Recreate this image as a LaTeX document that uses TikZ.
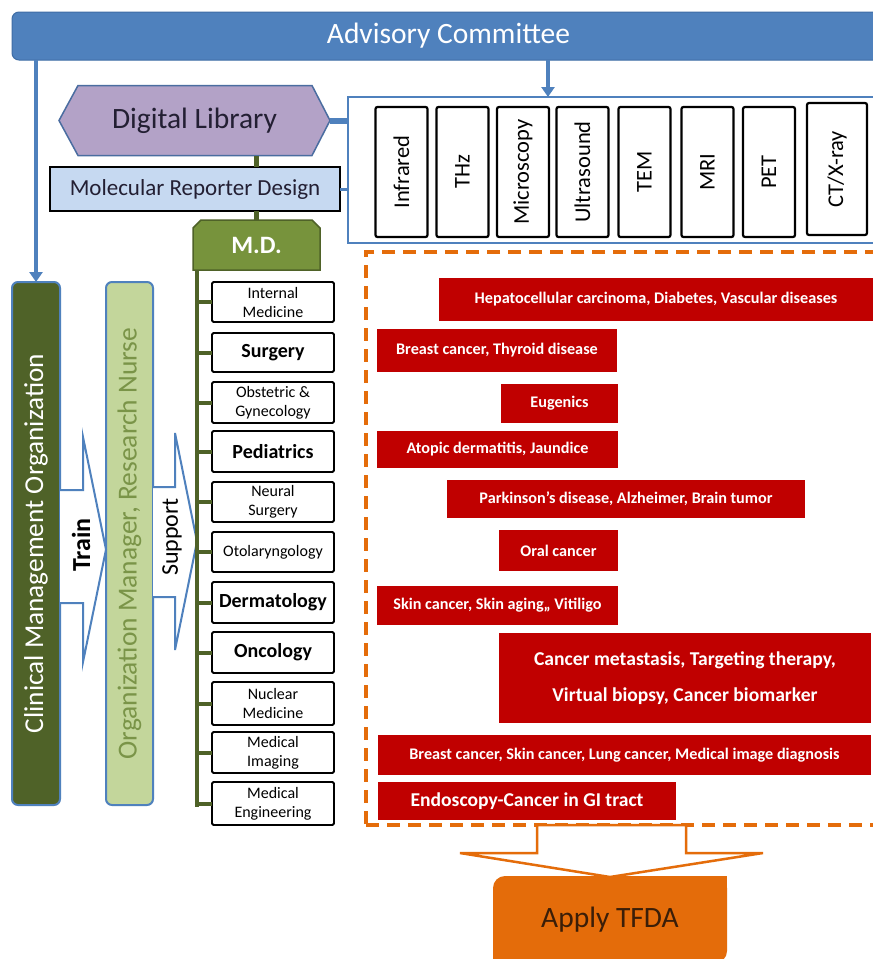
\documentclass[tikz,border=0pt]{standalone}
\usepackage{fontspec}
\setmainfont{Carlito}
\usetikzlibrary{arrows.meta}
\pgfdeclarelayer{bg}
\pgfsetlayers{bg,main}
\definecolor{advblue}{HTML}{4F81BD}
\definecolor{advdark}{HTML}{3F6DA5}
\definecolor{hexfill}{HTML}{B3A2C7}
\definecolor{hexline}{HTML}{4A6DA0}
\definecolor{mrdfill}{HTML}{C6D9F1}
\definecolor{mdgreen}{HTML}{77933C}
\definecolor{dkgreen}{HTML}{4F6228}
\definecolor{ltgreen}{HTML}{C3D69B}
\definecolor{txgreen}{HTML}{7A9448}
\definecolor{dred}{HTML}{C00000}
\definecolor{orng}{HTML}{E46C0A}
\definecolor{tfdatext}{HTML}{3B1E08}
\definecolor{dltext}{HTML}{231F33}
\tikzset{
  fbox/.style={inner sep=0pt, outer sep=0pt},
  spanbox/.style n args={4}{minimum width={(#3)-(#1)}, minimum height={(#4)-(#2)}, at={({((#1)+(#3))/2},{((#2)+(#4))/2})}},
  advarrow/.style={draw=advblue, line width=4.5pt, -{Triangle[width=13pt,length=10pt]}},
  dept/.style={fbox, draw=black, line width=1.8pt, fill=white, rounded corners=1.5pt, align=center, font=\fontsize{16}{19}\selectfont},
  deptb/.style={dept, font=\bfseries\fontsize{20}{24}\selectfont},
  branch/.style={draw=dkgreen, line width=4pt},
  redbox/.style={fbox, fill=dred, text=white, align=center, font=\bfseries\fontsize{16.2}{19}\selectfont},
  redbig/.style={redbox, font=\bfseries\fontsize{19.6}{36}\selectfont},
  imgbox/.style={fbox, draw=black, line width=2.2pt, rounded corners=2pt, fill=white, rotate=90, minimum width=130pt, minimum height=52pt, font=\fontsize{22.5}{26}\selectfont},
  sidebar/.style={fbox, draw=advblue, line width=2pt, rounded corners=6pt, rotate=90, minimum width=523pt, minimum height=48pt},
  blockarrow/.style={draw=advblue, line width=2pt, fill=white, line join=miter},
}
\begin{document}
\begin{tikzpicture}[x=1pt,y=-1pt]
\useasboundingbox (0,0) rectangle (873,959);
\begin{pgfonlayer}{bg}
\fill[white] (0,0) rectangle (873,959);
\end{pgfonlayer}

% Advisory committee
\node[fbox, fill=advblue, draw=advdark, line width=1pt, rounded corners=7pt, spanbox={12}{12}{885}{60}, text=white, font=\fontsize{29.5}{32}\selectfont] (adv) {Advisory Committee};

% imaging modalities frame
\node[fbox, draw=advblue, line width=2.5pt, fill=white, spanbox={348}{97}{890}{243}] (img) {};
\coordinate (imgtop) at (548,97);
\draw[advarrow] (adv.south -| imgtop) -- (imgtop);

\node[imgbox] (ir)  at (401.5,172) {Infrared};
\node[imgbox] (thz) at (462.5,172) {THz};
\node[imgbox] (mic) at (523,172) {Microscopy};
\node[imgbox] (us)  at (582.5,172) {Ultrasound};
\node[imgbox] (tem) at (644.5,172) {TEM};
\node[imgbox] (mri) at (707.5,172) {MRI};
\node[imgbox] (pet) at (769,172) {PET};
\node[imgbox, minimum width=132pt, minimum height=60pt] (ct) at (837,169) {CT/X-ray};

% Digital library hexagon
\node[fbox, minimum width=271pt, minimum height=70pt, text=dltext, font=\fontsize{29.5}{32}\selectfont] (dl) at (194.5,120.5) {Digital Library};
\begin{pgfonlayer}{bg}
\filldraw[fill=hexfill, draw=hexline, line width=1.5pt] (dl.west) -- ([xshift=19pt]dl.north west) -- ([xshift=-18pt]dl.north east) -- (dl.east) -- ([xshift=-18pt]dl.south east) -- ([xshift=19pt]dl.south west) -- cycle;
\end{pgfonlayer}
\draw[draw=advblue, line width=6pt] (dl.east) -- (dl.east -| img.west);

% Molecular reporter design
\node[fbox, draw=black, line width=2.5pt, fill=mrdfill, spanbox={50}{167}{340}{211}, text=dltext, font=\fontsize{23}{26}\selectfont] (mrd) {Molecular Reporter Design};
\draw[draw=advblue, line width=3pt] (mrd.east) -- (mrd.east -| img.west);

% M.D.
\node[fbox, minimum width=127pt, minimum height=50pt, text=white, font=\bfseries\fontsize{25}{28}\selectfont] (md) at (256.5,245) {M.D.};
\begin{pgfonlayer}{bg}
\filldraw[fill=mdgreen, draw=dkgreen, line width=1.5pt] (md.south west) -- ([yshift=-8pt]md.north west) -- ([xshift=8pt]md.north west) -- ([xshift=-8pt]md.north east) -- ([yshift=-8pt]md.north east) -- (md.south east) -- cycle;
\end{pgfonlayer}
\draw[draw=dkgreen, line width=5pt] (md.north |- dl.south) -- (md.north |- mrd.north);
\draw[draw=dkgreen, line width=5pt] (md.north |- mrd.south) -- (md.north);

% side bars
\node[sidebar, fill=dkgreen, text=white, font=\fontsize{27.3}{30}\selectfont] (cmo) at (36,543.5) {Clinical Management Organization};
\node[sidebar, fill=ltgreen, text=txgreen, minimum height=47pt, font=\fontsize{27.5}{30}\selectfont] (orn) at (129.5,543.5) {Organization Manager, Research Nurse};
\draw[advarrow] (adv.south -| cmo.east) -- (cmo.east);

% Train / Support arrows
\filldraw[blockarrow] (cmo.south |- 0,490) -- (83,490) -- (83,437) -- (orn.north |- 0,549.5) -- (83,662) -- (83,603) -- (cmo.south |- 0,603);
\node[rotate=90, font=\bfseries\fontsize{26}{30}\selectfont] (train) at (81,545) {Train};
\filldraw[blockarrow] (orn.south |- 0,487) -- (175,487) -- (175,433) -- (197,541.5) -- (175,650) -- (175,597) -- (orn.south |- 0,597);
\node[rotate=90, font=\fontsize{24}{28}\selectfont] (support) at (172,537) {Support};

% departments
\node[dept,  spanbox={212}{282}{334}{322}] (d1) {Internal\\Medicine};
\node[deptb, spanbox={212}{333}{334}{372}] (d2) {Surgery};
\node[dept,  spanbox={212}{382}{334}{423}] (d3) {Obstetric \&\\Gynecology};
\node[deptb, spanbox={212}{431}{334}{472}] (d4) {Pediatrics};
\node[dept,  spanbox={212}{482}{334}{522}] (d5) {Neural\\Surgery};
\node[dept,  spanbox={212}{532}{334}{572}] (d6) {Otolaryngology};
\node[deptb, spanbox={212}{582}{334}{623}] (d7) {Dermatology};
\node[deptb, spanbox={212}{632}{334}{673}] (d8) {Oncology};
\node[dept,  spanbox={212}{682}{334}{725}] (d9) {Nuclear\\Medicine};
\node[dept,  spanbox={212}{732}{334}{773}] (d10) {Medical\\Imaging};
\node[dept,  spanbox={212}{782}{334}{825}] (d11) {Medical\\Engineering};
\coordinate (trunkbot) at (197,807);
\draw[draw=dkgreen, line width=4pt] (md.south west -| trunkbot) -- (trunkbot);
\foreach \d in {d1,d2,d3,d4,d5,d6,d7,d8,d9,d10,d11}
  \draw[branch] (trunkbot |- \d.west) -- (\d.west);

% disease zone
\node[fbox, draw=orng, line width=4pt, dash pattern=on 13pt off 8pt, spanbox={366}{252}{892}{825}] (dz) {};
\node[redbox, spanbox={439}{278}{873}{321}] (r1) {Hepatocellular carcinoma, Diabetes, Vascular diseases};
\node[redbox, spanbox={377}{329}{617}{372}] (r2) {Breast cancer, Thyroid disease};
\node[redbox, spanbox={501}{384}{618}{423}] (r3) {Eugenics};
\node[redbox, spanbox={377}{431}{618}{468}] (r4) {Atopic dermatitis, Jaundice};
\node[redbox, spanbox={447}{480}{805}{518}] (r5) {Parkinson’s disease, Alzheimer, Brain tumor};
\node[redbox, spanbox={499}{530}{618}{571}] (r6) {Oral cancer};
\node[redbox, spanbox={377}{586}{618}{625}] (r7) {Skin cancer, Skin aging,, Vitiligo};
\node[redbig, spanbox={499}{633}{871}{723}] (r8) {Cancer metastasis, Targeting therapy,\\Virtual biopsy, Cancer biomarker};
\node[redbox, spanbox={378}{735}{871}{775}] (r9) {Breast cancer, Skin cancer, Lung cancer, Medical image diagnosis};
\node[redbig, spanbox={378}{782}{676}{820}] (r10) {Endoscopy-Cancer in GI tract};

% apply TFDA
\coordinate (tip) at (610,877);
\filldraw[fill=white, draw=orng, line width=2.5pt, line join=miter] (537,825) -- (537,853) -- (460,853) -- (tip) -- (763,853) -- (686,853) -- (686,825) -- cycle;
\node[fbox, fill=orng, rounded corners=12pt, spanbox={493}{876}{727}{963}, text=tfdatext, font=\fontsize{29.5}{32}\selectfont] (tfda) {Apply TFDA};
\fill[orng] (tfda.north east) rectangle ++(-14,14);
\fill[orng] (tfda.south west) rectangle ++(14,-14);
\end{tikzpicture}
\end{document}
